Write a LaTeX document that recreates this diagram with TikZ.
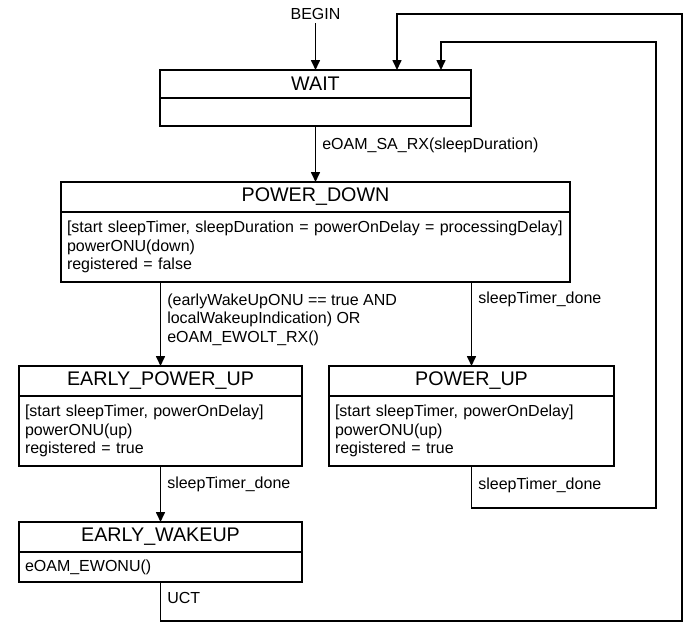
\documentclass[tikz,border=0pt]{standalone}
\usepackage{
	fontspec,			% Fonts
	tikz
}
\setmainfont{Liberation Sans}
\usetikzlibrary{positioning,arrows.meta}
\newcommand{\titlefont}{\fontsize{19.7}{23}\selectfont}
\newcommand{\bodyfont}{\fontsize{16}{18.5}\selectfont}

\begin{document}
\begin{tikzpicture}[x=1pt,y=-1pt,
		statetitle/.style={draw, line width=1.9pt, outer sep=0pt, minimum height=30, inner sep=0pt, font=\titlefont},
		statebody/.style={draw, line width=1.9pt, outer sep=0pt, inner xsep=6pt, inner ysep=0pt, align=left, font=\bodyfont},
		trans/.style={font=\bodyfont, align=left, inner xsep=6pt, inner ysep=1pt},
		arr/.style={line width=1.6pt, -{Triangle[length=10pt,width=9pt]}}]
		\useasboundingbox (0,0) rectangle (683,622);
		\node[font=\bodyfont] (begin) at (315.5,14) {BEGIN};
		\node[statetitle, minimum width=311, minimum height=28] (wait) at (315.5,84) {WAIT};
		\node[statebody, below=0pt of wait, minimum width=311, minimum height=28] (waitbody) {};
		\node[statetitle, minimum width=509] (pd) at (315.5,197) {POWER\_DOWN};
		\node[statebody, below=0pt of pd, text width=497, minimum height=70] (pdbody) {[start sleepTimer, sleepDuration = powerOnDelay = processingDelay]\\powerONU(down)\\registered = false};
		\node[statetitle, minimum width=283] (epu) at (160.5,381) {EARLY\_POWER\_UP};
		\node[statebody, below=0pt of epu, text width=271, minimum height=70] (epubody) {[start sleepTimer, powerOnDelay]\\powerONU(up)\\registered = true};
		\node[statetitle, minimum width=285] (pu) at (471.5,381) {POWER\_UP};
		\node[statebody, below=0pt of pu, text width=273, minimum height=70] (pubody) {[start sleepTimer, powerOnDelay]\\powerONU(up)\\registered = true};
		\node[statetitle, minimum width=283] (ew) at (160.5,537) {EARLY\_WAKEUP};
		\node[statebody, below=0pt of ew, text width=271, minimum height=30] (ewbody) {eOAM\_EWONU()};
		\coordinate (waitin1) at ([xshift=81.5pt]wait.north);
		\coordinate (waitin2) at ([xshift=125.5pt]wait.north);
		\coordinate (innercorner) at (656,42);
		\coordinate (outercorner) at (682,14);
		\draw[arr] (begin) -- (wait);
		\draw[arr] (waitbody) -- node[trans, anchor=west, pos=0.35] {eOAM\_SA\_RX(sleepDuration)} (pd);
		\draw[arr] (pdbody.south -| epu) -- node[trans, anchor=west, pos=0.45] {(earlyWakeUpONU == true AND\\localWakeupIndication) OR\\eOAM\_EWOLT\_RX()} (epu);
		\draw[arr] (pdbody.south -| pu) -- node[trans, anchor=west, pos=0.21] {sleepTimer\_done} (pu);
		\draw[arr] (epubody) -- node[trans, anchor=west, pos=0.32] {sleepTimer\_done} (ew);
		\draw[arr] (pubody.south) -- node[trans, anchor=west, pos=0.45] {sleepTimer\_done} ++(0,42) -| (innercorner) -| (waitin2);
		\draw[arr] (ewbody.south) -- node[trans, anchor=west, pos=0.4] {UCT} ++(0,39) -| (outercorner) -| (waitin1);
	\end{tikzpicture}
\end{document}
